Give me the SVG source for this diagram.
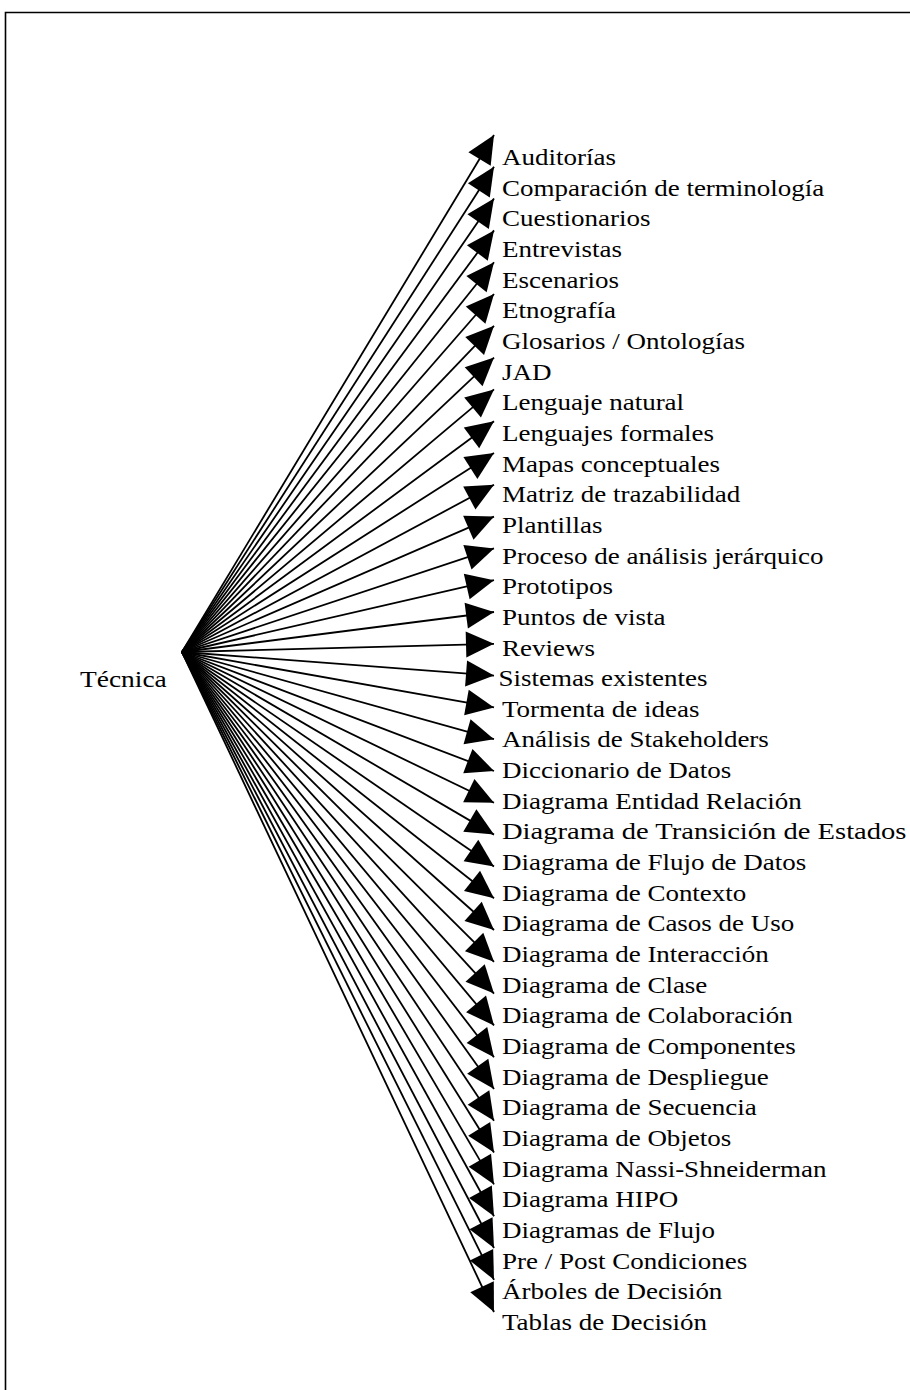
<svg xmlns="http://www.w3.org/2000/svg" width="910" height="1390" viewBox="0 0 910 1390">
  <style>
    .lbl { font-family: "Liberation Serif", "Times New Roman", serif; font-size: 22.5px; fill: #000; }
    .edge { stroke: #000; stroke-width: 1.8; fill: none; marker-end: url(#head); }
    .frame { fill: none; stroke: #000; stroke-width: 1.6; }
  </style>
  <defs>
    <marker id="head" markerUnits="userSpaceOnUse" markerWidth="30" markerHeight="28" refX="28" refY="13" orient="auto" overflow="visible">
      <path d="M0,0 L28,13 L0,26 Z" fill="#000"/>
    </marker>
  </defs>
  <rect width="910" height="1390" fill="#fff"/>
  <!-- outer frame: only top and left edges fall inside the canvas -->
  <path class="frame" d="M5.5,1390 V12.5 H910"/>

  <g id="connectors">
    <line class="edge" x1="182" y1="652" x2="494" y2="135"/>
    <line class="edge" x1="182" y1="652" x2="494" y2="166.8"/>
    <line class="edge" x1="182" y1="652" x2="494" y2="198.6"/>
    <line class="edge" x1="182" y1="652" x2="494" y2="230.4"/>
    <line class="edge" x1="182" y1="652" x2="494" y2="262.2"/>
    <line class="edge" x1="182" y1="652" x2="494" y2="294"/>
    <line class="edge" x1="182" y1="652" x2="494" y2="325.8"/>
    <line class="edge" x1="182" y1="652" x2="494" y2="357.6"/>
    <line class="edge" x1="182" y1="652" x2="494" y2="389.4"/>
    <line class="edge" x1="182" y1="652" x2="494" y2="421.2"/>
    <line class="edge" x1="182" y1="652" x2="494" y2="453"/>
    <line class="edge" x1="182" y1="652" x2="494" y2="484.8"/>
    <line class="edge" x1="182" y1="652" x2="494" y2="516.6"/>
    <line class="edge" x1="182" y1="652" x2="494" y2="548.4"/>
    <line class="edge" x1="182" y1="652" x2="494" y2="580.2"/>
    <line class="edge" x1="182" y1="652" x2="494" y2="612"/>
    <line class="edge" x1="182" y1="652" x2="494" y2="643.8"/>
    <line class="edge" x1="182" y1="652" x2="494" y2="675.6"/>
    <line class="edge" x1="182" y1="652" x2="494" y2="707.4"/>
    <line class="edge" x1="182" y1="652" x2="494" y2="739.2"/>
    <line class="edge" x1="182" y1="652" x2="494" y2="771"/>
    <line class="edge" x1="182" y1="652" x2="494" y2="802.8"/>
    <line class="edge" x1="182" y1="652" x2="494" y2="834.6"/>
    <line class="edge" x1="182" y1="652" x2="494" y2="866.4"/>
    <line class="edge" x1="182" y1="652" x2="494" y2="898.2"/>
    <line class="edge" x1="182" y1="652" x2="494" y2="930"/>
    <line class="edge" x1="182" y1="652" x2="494" y2="961.8"/>
    <line class="edge" x1="182" y1="652" x2="494" y2="993.6"/>
    <line class="edge" x1="182" y1="652" x2="494" y2="1025.4"/>
    <line class="edge" x1="182" y1="652" x2="494" y2="1057.2"/>
    <line class="edge" x1="182" y1="652" x2="494" y2="1089"/>
    <line class="edge" x1="182" y1="652" x2="494" y2="1120.8"/>
    <line class="edge" x1="182" y1="652" x2="494" y2="1152.6"/>
    <line class="edge" x1="182" y1="652" x2="494" y2="1184.4"/>
    <line class="edge" x1="182" y1="652" x2="494" y2="1216.2"/>
    <line class="edge" x1="182" y1="652" x2="494" y2="1248"/>
    <line class="edge" x1="182" y1="652" x2="494" y2="1279.8"/>
    <line class="edge" x1="182" y1="652" x2="494" y2="1312"/>
  </g>

  <g id="tecnica" transform="translate(80,0) scale(1.22,1)"><text class="lbl" x="0" y="687">Técnica</text></g>

  <g transform="translate(502,0) scale(1.2,1)">
    <g id="n01"><text class="lbl" x="0" y="165">Auditorías</text></g>
    <g id="n02"><text class="lbl" x="0" y="195.7">Comparación de terminología</text></g>
    <g id="n03"><text class="lbl" x="0" y="226.3">Cuestionarios</text></g>
    <g id="n04"><text class="lbl" x="0" y="257">Entrevistas</text></g>
    <g id="n05"><text class="lbl" x="0" y="287.6">Escenarios</text></g>
    <g id="n06"><text class="lbl" x="0" y="318.3">Etnografía</text></g>
    <g id="n07"><text class="lbl" x="0" y="349">Glosarios / Ontologías</text></g>
    <g id="n08"><text class="lbl" x="0" y="379.6">JAD</text></g>
    <g id="n09"><text class="lbl" x="0" y="410.3">Lenguaje natural</text></g>
    <g id="n10"><text class="lbl" x="0" y="440.9">Lenguajes formales</text></g>
    <g id="n11"><text class="lbl" x="0" y="471.6">Mapas conceptuales</text></g>
    <g id="n12"><text class="lbl" x="0" y="502.3">Matriz de trazabilidad</text></g>
    <g id="n13"><text class="lbl" x="0" y="532.9">Plantillas</text></g>
    <g id="n14"><text class="lbl" x="0" y="563.6">Proceso de análisis jerárquico</text></g>
    <g id="n15"><text class="lbl" x="0" y="594.2">Prototipos</text></g>
    <g id="n16"><text class="lbl" x="0" y="624.9">Puntos de vista</text></g>
    <g id="n17"><text class="lbl" x="0" y="655.6">Reviews</text></g>
    <g id="n18"><text class="lbl" x="-3" y="686.2">Sistemas existentes</text></g>
    <g id="n19"><text class="lbl" x="0" y="716.9">Tormenta de ideas</text></g>
    <g id="n20"><text class="lbl" x="0" y="747.5">Análisis de Stakeholders</text></g>
    <g id="n21"><text class="lbl" x="0" y="778.2">Diccionario de Datos</text></g>
    <g id="n22"><text class="lbl" x="0" y="808.9">Diagrama Entidad Relación</text></g>
    <g id="n23"><text class="lbl" x="0" y="839.5" textLength="337" lengthAdjust="spacingAndGlyphs">Diagrama de Transición de Estados</text></g>
    <g id="n24"><text class="lbl" x="0" y="870.2">Diagrama de Flujo de Datos</text></g>
    <g id="n25"><text class="lbl" x="0" y="900.8">Diagrama de Contexto</text></g>
    <g id="n26"><text class="lbl" x="0" y="931.5">Diagrama de Casos de Uso</text></g>
    <g id="n27"><text class="lbl" x="0" y="962.2">Diagrama de Interacción</text></g>
    <g id="n28"><text class="lbl" x="0" y="992.8">Diagrama de Clase</text></g>
    <g id="n29"><text class="lbl" x="0" y="1023.5">Diagrama de Colaboración</text></g>
    <g id="n30"><text class="lbl" x="0" y="1054.1">Diagrama de Componentes</text></g>
    <g id="n31"><text class="lbl" x="0" y="1084.8">Diagrama de Despliegue</text></g>
    <g id="n32"><text class="lbl" x="0" y="1115.5">Diagrama de Secuencia</text></g>
    <g id="n33"><text class="lbl" x="0" y="1146.1">Diagrama de Objetos</text></g>
    <g id="n34"><text class="lbl" x="0" y="1176.8">Diagrama Nassi-Shneiderman</text></g>
    <g id="n35"><text class="lbl" x="0" y="1207.4">Diagrama HIPO</text></g>
    <g id="n36"><text class="lbl" x="0" y="1238.1">Diagramas de Flujo</text></g>
    <g id="n37"><text class="lbl" x="0" y="1268.8">Pre / Post Condiciones</text></g>
    <g id="n38"><text class="lbl" x="0" y="1299.4">Árboles de Decisión</text></g>
    <g id="n39"><text class="lbl" x="0" y="1330.1">Tablas de Decisión</text></g>
  </g>
</svg>
